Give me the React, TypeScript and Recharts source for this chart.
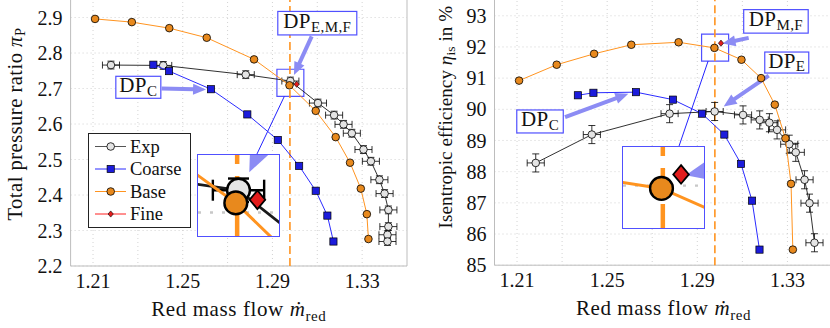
import React from 'react';
import {
  ComposedChart,
  Scatter,
  XAxis,
  YAxis,
  CartesianGrid,
  ErrorBar,
  ReferenceLine,
  ReferenceArea,
  ReferenceDot,
  Legend,
} from 'recharts';

const FONT = 'Liberation Serif';

// ---- total pressure ratio vs. reduced mass flow ----
const expFlowPR = [1.218, 1.2413, 1.2781, 1.298, 1.3103, 1.3175, 1.3217, 1.3254, 1.3306, 1.3339, 1.3377, 1.34, 1.3417, 1.3417, 1.3413, 1.3413];
const expPR = [2.766, 2.765, 2.739, 2.721, 2.659, 2.625, 2.599, 2.574, 2.528, 2.495, 2.443, 2.404, 2.358, 2.311, 2.288, 2.269];
const coarseFlowPR = [1.2369, 1.2439, 1.2626, 1.2788, 1.2924, 1.3019, 1.3093, 1.3145, 1.3172];
const coarsePR = [2.767, 2.749, 2.698, 2.627, 2.555, 2.482, 2.412, 2.342, 2.269];
const baseFlowPR = [1.2109, 1.2273, 1.244, 1.2607, 1.2818, 1.2976, 1.3093, 1.3182, 1.3246, 1.3294, 1.3321, 1.3328];
const basePR = [2.896, 2.887, 2.87, 2.843, 2.782, 2.709, 2.637, 2.563, 2.491, 2.418, 2.346, 2.276];
const fineFlowPR = [1.3008];
const finePR = [2.712];

// ---- isentropic efficiency vs. reduced mass flow ----
const expFlowEff = [1.2183, 1.2432, 1.2777, 1.2977, 1.3103, 1.3177, 1.322, 1.3254, 1.3308, 1.3337, 1.3376, 1.3398, 1.342];
const expEff = [88.28, 89.19, 89.86, 89.93, 89.82, 89.66, 89.57, 89.34, 88.88, 88.62, 87.74, 86.99, 85.72];
const coarseFlowEff = [1.237, 1.2439, 1.2628, 1.2792, 1.2921, 1.302, 1.3094, 1.3143, 1.3176];
const coarseEff = [90.45, 90.53, 90.55, 90.31, 89.86, 89.19, 88.25, 87.07, 85.5];
const baseFlowEff = [1.2109, 1.2276, 1.2442, 1.2607, 1.2817, 1.2976, 1.3096, 1.3183, 1.3244, 1.3291, 1.3316, 1.3324];
const baseEff = [90.92, 91.43, 91.78, 92.07, 92.15, 91.97, 91.59, 91.0, 90.15, 89.07, 87.61, 85.5];
const fineFlowEff = [1.3005];
const fineEff = [92.12];

// measurement uncertainty of the experiment
const EXP_ERR_FLOW = 0.0038;
const EXP_ERR_PR = 0.011;
const EXP_ERR_EFF = 0.29;

// design point mass flow
const DP_FLOW = 1.2978;

const xTicks = [1.21, 1.25, 1.29, 1.33];
const xGrid = [1.21, 1.23, 1.25, 1.27, 1.29, 1.31, 1.33];
const prTicks = [2.2, 2.3, 2.4, 2.5, 2.6, 2.7, 2.8, 2.9];
const effTicks = [85, 86, 87, 88, 89, 90, 91, 92, 93];

const EXP_FILL = '#e4e4e4';
const COARSE_FILL = '#1b1bdc';
const BASE_FILL = '#e8891d';
const FINE_FILL = '#e21c1c';
const EXP_LINE = '#1a1a1a';
const COARSE_LINE = '#2b2bff';
const BASE_LINE = '#ff9420';
const FINE_LINE = '#ff2020';
const BOX = '#5050ff';
const ARROW = '#8c8cf4';
const AXIS = '#bdbdbd';
const GRID = '#c8c8c8';
const INK = '#111';

type Pt = { x: number; y: number; ex?: number; ey?: number };

const zip = (xs: number[], ys: number[], ex?: number, ey?: number): Pt[] =>
  xs.map((x, i) => ({ x, y: ys[i], ex, ey }));

const prSets = {
  exp: zip(expFlowPR, expPR, EXP_ERR_FLOW, EXP_ERR_PR),
  coarse: zip(coarseFlowPR, coarsePR),
  base: zip(baseFlowPR, basePR),
  fine: zip(fineFlowPR, finePR),
};

const effSets = {
  exp: zip(expFlowEff, expEff, EXP_ERR_FLOW, EXP_ERR_EFF),
  coarse: zip(coarseFlowEff, coarseEff),
  base: zip(baseFlowEff, baseEff),
  fine: zip(fineFlowEff, fineEff),
};

// marker shapes, k scales everything for the magnified views
const circle = (fill: string, r: number, sw: number) => (p: any) =>
  <circle cx={p.cx} cy={p.cy} r={r} fill={fill} stroke="#000" strokeWidth={sw} />;

const square = (fill: string, s: number, sw: number) => (p: any) =>
  <rect x={p.cx - s / 2} y={p.cy - s / 2} width={s} height={s} fill={fill} stroke="#000" strokeWidth={sw} />;

const diamond = (fill: string, rx: number, ry: number, sw: number) => (p: any) =>
  <polygon
    points={`${p.cx},${p.cy - ry} ${p.cx + rx},${p.cy} ${p.cx},${p.cy + ry} ${p.cx - rx},${p.cy}`}
    fill={fill}
    stroke="#000"
    strokeWidth={sw}
  />;

function seriesLayers(sets: typeof prSets, k: number) {
  return [
    <Scatter
      key="exp"
      name="Exp"
      data={sets.exp}
      isAnimationActive={false}
      line={{ stroke: EXP_LINE, strokeWidth: 0.9 * k }}
      shape={circle(EXP_FILL, 3.8 * k, 0.8 * k)}
    >
      <ErrorBar dataKey="ex" direction="x" width={3.5 * k} stroke="#000" strokeWidth={0.8 * k} isAnimationActive={false} />
      <ErrorBar dataKey="ey" direction="y" width={3.5 * k} stroke="#000" strokeWidth={0.8 * k} isAnimationActive={false} />
    </Scatter>,
    <Scatter
      key="coarse"
      name="Coarse"
      data={sets.coarse}
      isAnimationActive={false}
      line={{ stroke: COARSE_LINE, strokeWidth: 1 * k }}
      shape={square(COARSE_FILL, 7.2 * k, 0.7 * k)}
    />,
    <Scatter
      key="base"
      name="Base"
      data={sets.base}
      isAnimationActive={false}
      line={{ stroke: BASE_LINE, strokeWidth: 1 * k }}
      shape={circle(BASE_FILL, 3.8 * k, 0.8 * k)}
    />,
    <Scatter
      key="fine"
      name="Fine"
      data={sets.fine}
      isAnimationActive={false}
      line={{ stroke: FINE_LINE, strokeWidth: 1 * k }}
      shape={diamond(FINE_FILL, 2.6 * k, 3.1 * k, 0.6 * k)}
    />,
  ];
}

// thick pointer arrow drawn between the two segment ends
const arrowShape = (k: number) => (p: any) => {
  const { x1, y1, x2, y2 } = p;
  if ([x1, y1, x2, y2].some((v) => typeof v !== 'number' || Number.isNaN(v))) return <g />;
  const dx = x2 - x1;
  const dy = y2 - y1;
  const len = Math.hypot(dx, dy) || 1;
  const ux = dx / len;
  const uy = dy / len;
  const hl = 13 * k;
  const hw = 5.5 * k;
  const bx = x2 - ux * hl;
  const by = y2 - uy * hl;
  return (
    <g>
      <line x1={x1} y1={y1} x2={bx + ux} y2={by + uy} stroke={ARROW} strokeWidth={4 * k} />
      <polygon points={`${x2},${y2} ${bx - uy * hw},${by + ux * hw} ${bx + uy * hw},${by - ux * hw}`} fill={ARROW} />
    </g>
  );
};

const callout = (w: number, h: number, sub: string) => (p: any) => (
  <g>
    <rect x={p.cx - w / 2} y={p.cy - h / 2} width={w} height={h} fill="#fff" stroke={BOX} strokeWidth={1.2} />
    <text x={p.cx} y={p.cy + 5} textAnchor="middle" fontFamily={FONT} fontSize={21} letterSpacing={0.4} fill={INK}>
      DP
      <tspan dy={3.5} fontSize={15}>{sub}</tspan>
    </text>
  </g>
);

type Arrow = { from: [number, number]; to: [number, number] };
type Note = { at: [number, number]; w: number; h: number; sub: string };

function arrowLayers(arrows: Arrow[], k: number, overflow: 'visible' | 'hidden') {
  return arrows.map((a, i) => (
    <ReferenceLine
      key={`arrow-${i}`}
      segment={[{ x: a.from[0], y: a.from[1] }, { x: a.to[0], y: a.to[1] }]}
      ifOverflow={overflow}
      shape={arrowShape(k)}
    />
  ));
}

function noteLayers(notes: Note[]) {
  return notes.map((n, i) => (
    <ReferenceDot key={`note-${i}`} x={n.at[0]} y={n.at[1]} r={0} ifOverflow="visible" shape={callout(n.w, n.h, n.sub)} />
  ));
}

const prArrows: Arrow[] = [
  { from: [1.3075, 2.847], to: [1.2996, 2.738] },
  { from: [1.2406, 2.7], to: [1.2604, 2.697] },
];
const prNotes: Note[] = [
  { at: [1.31, 2.884], w: 79, h: 23.5, sub: 'E,M,F' },
  { at: [1.2302, 2.7034], w: 45, h: 22, sub: 'C' },
];

const effArrows: Arrow[] = [
  { from: [1.3128, 92.29], to: [1.3012, 92.11] },
  { from: [1.3217, 91.08], to: [1.3017, 90.09] },
  { from: [1.2313, 89.75], to: [1.2594, 90.5] },
];
const effNotes: Note[] = [
  { at: [1.3249, 92.82], w: 64.5, h: 23.5, sub: 'M,F' },
  { at: [1.3297, 91.5], w: 44, h: 21, sub: 'E' },
  { at: [1.2202, 89.61], w: 46.5, h: 23, sub: 'C' },
];

// zoom windows around the design point (centre and half extents)
const prSpy = { x: 1.298, y: 2.716, dx: 0.006, dy: 0.0382 };
const effSpy = { x: 1.2979, y: 91.98, dx: 0.006, dy: 0.433 };
const SPY_SIZE = 81;

const XTitle = (props: any) => {
  const vb = props.viewBox;
  return (
    <text
      x={vb.x + vb.width / 2}
      y={vb.y + 50}
      textAnchor="middle"
      fontFamily={FONT}
      fontSize={21}
      letterSpacing={0.6}
      fill={INK}
    >
      Red mass flow{'\u00a0'}
      <tspan fontStyle="italic">ṁ</tspan>
      <tspan dy={5} fontSize={15}>red</tspan>
    </text>
  );
};

const YTitle = ({ viewBox, offset, size, spacing, children }: any) => {
  const cx = viewBox.x + offset;
  const cy = viewBox.y + viewBox.height / 2;
  return (
    <text
      transform={`translate(${cx},${cy}) rotate(-90)`}
      textAnchor="middle"
      dominantBaseline="central"
      fontFamily={FONT}
      fontSize={size}
      letterSpacing={spacing}
      fill={INK}
    >
      {children}
    </text>
  );
};

const LegendBox = () => {
  const rows = [
    { name: 'Exp', line: '#555', mark: circle(EXP_FILL, 3.8, 0.8) },
    { name: 'Coarse', line: COARSE_LINE, mark: square(COARSE_FILL, 7.2, 0.7) },
    { name: 'Base', line: BASE_LINE, mark: circle(BASE_FILL, 3.8, 0.8) },
    { name: 'Fine', line: FINE_LINE, mark: diamond(FINE_FILL, 2.6, 3.1, 0.6) },
  ];
  return (
    <svg width={103} height={95} style={{ display: 'block' }}>
      <rect x={0.5} y={0.5} width={102} height={94} fill="#fff" stroke="#222" strokeWidth={1} />
      {rows.map((r, i) => {
        const y = 13.5 + i * 22.5;
        return (
          <g key={r.name}>
            <line x1={7} y1={y} x2={38} y2={y} stroke={r.line} strokeWidth={1} />
            {r.mark({ cx: 22.7, cy: y })}
            <text x={42} y={y + 6} fontFamily={FONT} fontSize={18.5} fill={INK}>{r.name}</text>
          </g>
        );
      })}
    </svg>
  );
};

const tickStyle = { fill: INK, fontSize: 20, fontFamily: FONT };

function Magnified({ sets, spy, gridY, arrows, left, top }: any) {
  const k = 3;
  return (
    <div
      style={{
        position: 'absolute',
        left,
        top,
        width: SPY_SIZE,
        height: SPY_SIZE,
        overflow: 'hidden',
        background: '#fff',
        outline: `1.2px solid ${BOX}`,
      }}
    >
      <ComposedChart width={SPY_SIZE} height={SPY_SIZE} margin={{ top: 0, right: 0, bottom: 0, left: 0 }}>
        <XAxis type="number" dataKey="x" hide domain={[spy.x - spy.dx, spy.x + spy.dx]} allowDataOverflow />
        <YAxis type="number" dataKey="y" hide domain={[spy.y - spy.dy, spy.y + spy.dy]} allowDataOverflow />
        <CartesianGrid vertical={false} horizontalValues={gridY} stroke={GRID} strokeDasharray="3 9" strokeWidth={2.4} />
        <ReferenceLine x={DP_FLOW} stroke={BASE_LINE} strokeWidth={4.5} strokeDasharray="24 12" ifOverflow="hidden" />
        {arrowLayers(arrows, k, 'hidden')}
        {seriesLayers(sets, k)}
      </ComposedChart>
    </div>
  );
}

export default function App() {
  return (
    <div
      style={{
        position: 'fixed',
        left: 0,
        top: 0,
        width: 830,
        height: 328,
        overflow: 'hidden',
        background: '#fff',
        fontFamily: FONT,
      }}
    >
      {/* pressure ratio */}
      <div style={{ position: 'absolute', left: 0, top: -18 }}>
        <ComposedChart width={420} height={346} margin={{ top: 0, right: 13, bottom: 0, left: 0 }}>
          <CartesianGrid verticalValues={xGrid} horizontalValues={prTicks} stroke={GRID} strokeDasharray="1 3" strokeWidth={0.8} />
          <XAxis
            type="number"
            dataKey="x"
            domain={[1.2, 1.35]}
            ticks={xTicks}
            tickFormatter={(v: number) => v.toFixed(2)}
            height={62}
            axisLine={false}
            tickLine={false}
            tickSize={6}
            tickMargin={2}
            tick={tickStyle}
            label={{ content: <XTitle /> }}
          />
          <YAxis
            type="number"
            dataKey="y"
            domain={[2.2, 3.0]}
            ticks={prTicks}
            tickFormatter={(v: number) => v.toFixed(1)}
            width={70.6}
            axisLine={false}
            tickLine={false}
            tickSize={6}
            tickMargin={2}
            tick={tickStyle}
            label={{
              content: (p: any) => (
                <YTitle viewBox={p.viewBox} offset={15} size={20.5} spacing={0.5}>
                  Total pressure ratio{'\u00a0'}
                  <tspan fontStyle="italic">π</tspan>
                  <tspan dy={5} fontSize={14.5}>P</tspan>
                </YTitle>
              ),
            }}
          />
          <ReferenceArea x1={1.2} x2={1.35} y1={2.2} y2={3.0} fill="none" stroke={AXIS} strokeWidth={1} ifOverflow="visible" />
          <ReferenceLine x={DP_FLOW} stroke={BASE_LINE} strokeWidth={1.6} strokeDasharray="8 4" />
          {arrowLayers(prArrows, 1, 'visible')}
          {seriesLayers(prSets, 1)}
          <ReferenceArea
            x1={prSpy.x - prSpy.dx}
            x2={prSpy.x + prSpy.dx}
            y1={prSpy.y - prSpy.dy}
            y2={prSpy.y + prSpy.dy}
            fill="none"
            stroke={BOX}
            strokeWidth={1.2}
            ifOverflow="visible"
          />
          <ReferenceLine
            segment={[{ x: 1.2953, y: prSpy.y - prSpy.dy }, { x: 1.283, y: 2.5142 }]}
            stroke="#2424ff"
            strokeWidth={1}
            ifOverflow="visible"
          />
          {noteLayers(prNotes)}
          <Legend
            layout="vertical"
            align="center"
            verticalAlign="middle"
            content={() => <LegendBox />}
            wrapperStyle={{ left: 88, top: 151, width: 103, height: 95 }}
          />
        </ComposedChart>
      </div>
      <Magnified sets={prSets} spy={prSpy} gridY={[2.7]} arrows={prArrows} left={198} top={155} />

      {/* isentropic efficiency */}
      <div style={{ position: 'absolute', left: 415, top: -31.5 }}>
        <ComposedChart width={417.5} height={359.5} margin={{ top: 0, right: 0, bottom: 0, left: 0 }}>
          <CartesianGrid verticalValues={xGrid} horizontalValues={effTicks} stroke={GRID} strokeDasharray="1 3" strokeWidth={0.8} />
          <XAxis
            type="number"
            dataKey="x"
            domain={[1.2, 1.35]}
            ticks={xTicks}
            tickFormatter={(v: number) => v.toFixed(2)}
            height={63.3}
            axisLine={false}
            tickLine={false}
            tickSize={6}
            tickMargin={2}
            tick={tickStyle}
            label={{ content: <XTitle /> }}
          />
          <YAxis
            type="number"
            dataKey="y"
            domain={[85, 94.5]}
            ticks={effTicks}
            tickFormatter={(v: number) => String(v)}
            width={79.5}
            axisLine={false}
            tickLine={false}
            tickSize={6}
            tickMargin={2}
            tick={tickStyle}
            label={{
              content: (p: any) => (
                <YTitle viewBox={p.viewBox} offset={30} size={19} spacing={0.1}>
                  Isentropic efficiency{'\u00a0'}
                  <tspan fontStyle="italic">η</tspan>
                  <tspan dy={5} fontSize={13.5}>is</tspan>
                  <tspan dy={-5}>{'\u00a0'}in %</tspan>
                </YTitle>
              ),
            }}
          />
          <ReferenceArea x1={1.2} x2={1.35} y1={85} y2={94.5} fill="none" stroke={AXIS} strokeWidth={1} ifOverflow="visible" />
          <ReferenceLine x={DP_FLOW} stroke={BASE_LINE} strokeWidth={1.6} strokeDasharray="8 4" />
          {arrowLayers(effArrows, 1, 'visible')}
          {seriesLayers(effSets, 1)}
          <ReferenceArea
            x1={effSpy.x - effSpy.dx}
            x2={effSpy.x + effSpy.dx}
            y1={effSpy.y - effSpy.dy}
            y2={effSpy.y + effSpy.dy}
            fill="none"
            stroke={BOX}
            strokeWidth={1.2}
            ifOverflow="visible"
          />
          <ReferenceLine
            segment={[{ x: 1.2948, y: effSpy.y - effSpy.dy }, { x: 1.2817, y: 88.78 }]}
            stroke="#2424ff"
            strokeWidth={1}
            ifOverflow="visible"
          />
          {noteLayers(effNotes)}
        </ComposedChart>
      </div>
      <Magnified sets={effSets} spy={effSpy} gridY={[92]} arrows={effArrows} left={623} top={147} />
    </div>
  );
}
